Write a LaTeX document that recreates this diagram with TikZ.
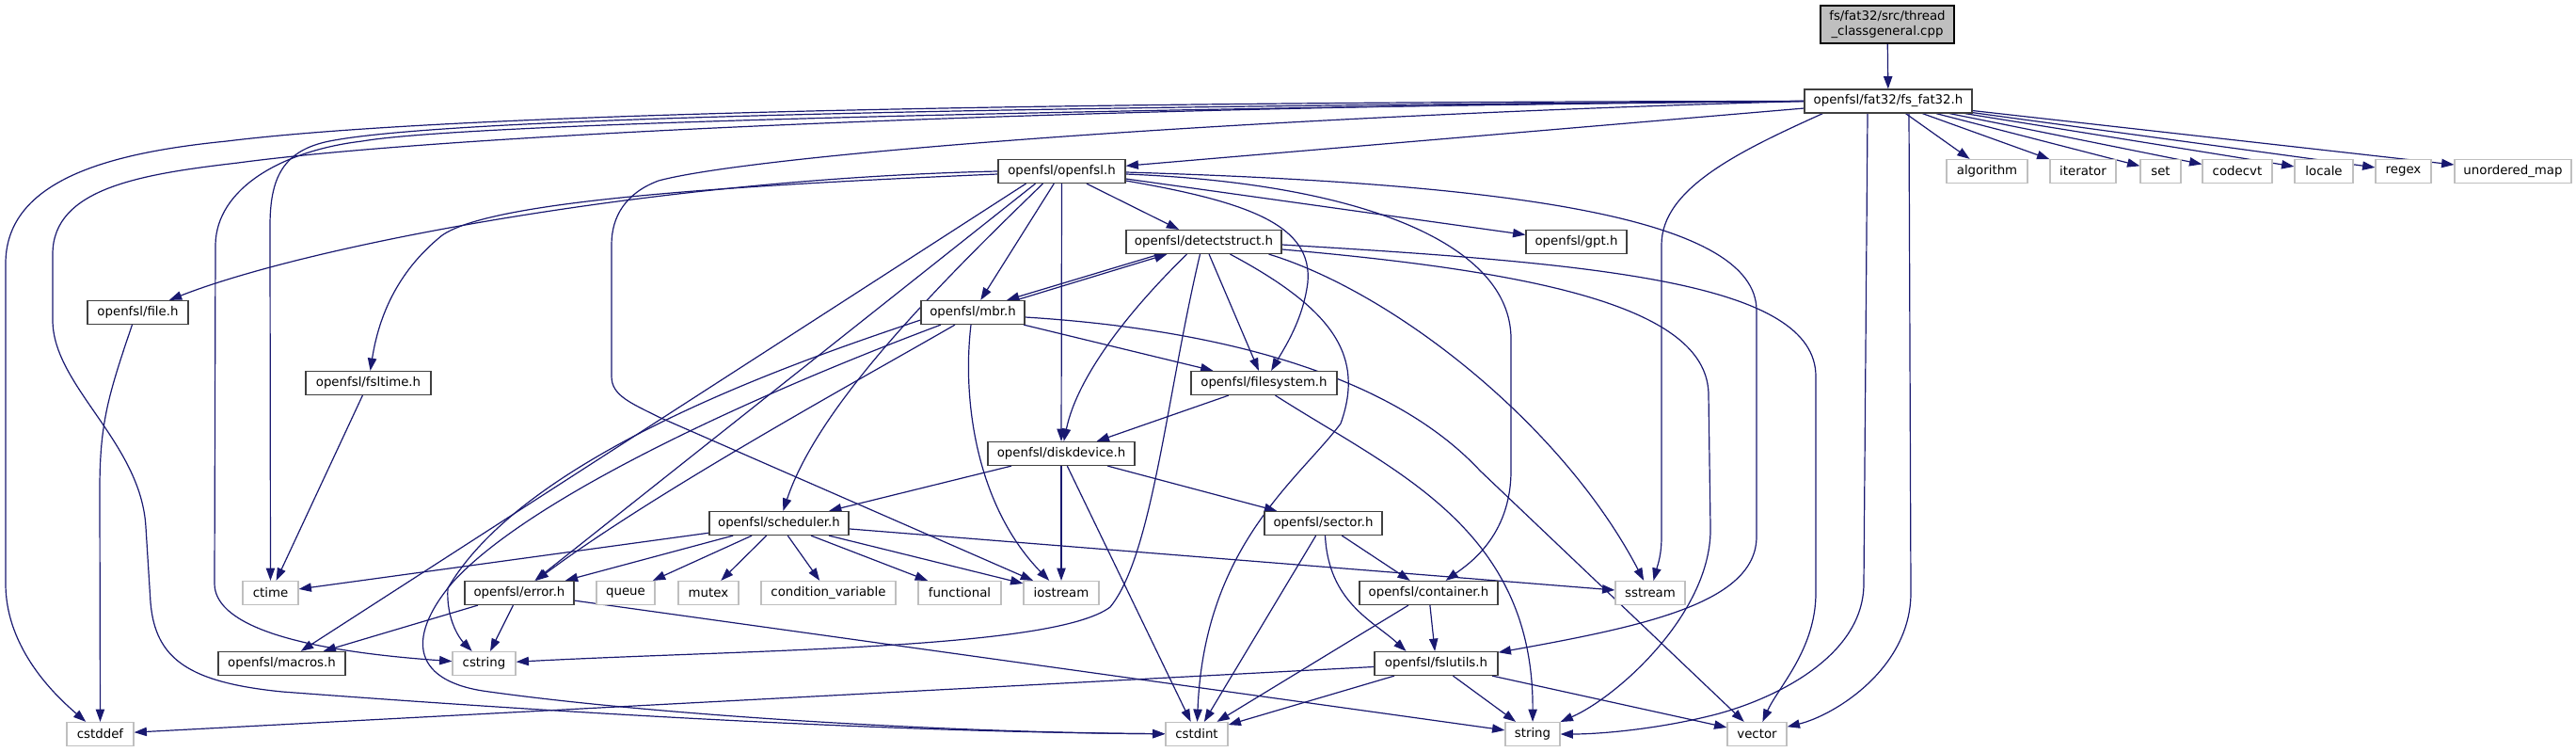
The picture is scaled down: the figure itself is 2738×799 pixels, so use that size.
\documentclass[tikz,border=0pt]{standalone}
\usepackage{fontspec}
\setmainfont{DejaVu Sans}
\usetikzlibrary{arrows.meta,calc}
\definecolor{edgec}{RGB}{25,25,112}
\definecolor{docb}{RGB}{64,64,64}
\definecolor{extb}{RGB}{191,191,191}
\definecolor{rootf}{RGB}{191,191,191}
\pgfdeclarelayer{bg}
\pgfsetlayers{bg,main}
\begin{document}
\begin{tikzpicture}[x=0.75pt,y=-0.75pt,
  box/.style={draw=docb,fill=white,line width=0.9pt,minimum height=18.75pt,inner sep=0pt,font=\fontsize{10}{12.5}\selectfont},
  ext/.style={box,draw=extb},
  rootbox/.style={box,fill=rootf,draw=black,minimum height=30pt,align=center},
  w/.style={minimum width=#1*0.75pt},
  edge/.style={draw=edgec,line width=0.9pt,-{Triangle[length=10pt,width=7pt]}}]
\useasboundingbox (0,0) rectangle (2738,799);
\node[rootbox,w=142] (R) at (2006,26) {fs/fat32/src/thread\\\_classgeneral.cpp};
\node[box,w=178] (F) at (2007,107.5) {openfsl/fat32/fs\_fat32.h};
\node[box,w=135] (O) at (1128.5,182) {openfsl/openfsl.h};
\node[ext,w=86] (alg) at (2112,182) {algorithm};
\node[ext,w=70] (itr) at (2214,182) {iterator};
\node[ext,w=43] (set) at (2296.5,182) {set};
\node[ext,w=74] (cvt) at (2378,182) {codecvt};
\node[ext,w=62] (loc) at (2470,182) {locale};
\node[ext,w=59] (rgx) at (2554.5,182) {regex};
\node[ext,w=124] (umap) at (2671,182) {unordered\_map};
\node[box,w=165] (D) at (1279.5,257) {openfsl/detectstruct.h};
\node[box,w=107] (G) at (1675.5,257) {openfsl/gpt.h};
\node[box,w=107] (Fi) at (146.5,332) {openfsl/file.h};
\node[box,w=110] (M) at (1034,332) {openfsl/mbr.h};
\node[box,w=133] (T) at (391.5,407) {openfsl/fsltime.h};
\node[box,w=155] (FS) at (1343.5,407) {openfsl/filesystem.h};
\node[box,w=156] (DD) at (1128,482) {openfsl/diskdevice.h};
\node[box,w=148] (S) at (828,556) {openfsl/scheduler.h};
\node[box,w=125] (Se) at (1406.5,556) {openfsl/sector.h};
\node[ext,w=59] (ctime) at (287.5,630) {ctime};
\node[box,w=116] (E) at (552,630) {openfsl/error.h};
\node[ext,w=62] (queue) at (665,630) {queue};
\node[ext,w=64] (mutex) at (753,630) {mutex};
\node[ext,w=143] (cv) at (880.5,630) {condition\_variable};
\node[ext,w=88] (func) at (1020,630) {functional};
\node[ext,w=80] (ios) at (1128,630) {iostream};
\node[box,w=147] (C) at (1518.5,630) {openfsl/container.h};
\node[ext,w=74] (sst) at (1754,630) {sstream};
\node[box,w=135] (Ma) at (299.5,705) {openfsl/macros.h};
\node[ext,w=67] (cstr) at (514.5,705) {cstring};
\node[box,w=131] (U) at (1526.5,705) {openfsl/fslutils.h};
\node[ext,w=71] (cdef) at (106.5,780) {cstddef};
\node[ext,w=66] (cint) at (1272,780) {cstdint};
\node[ext,w=58] (str) at (1629,780) {string};
\node[ext,w=63] (vec) at (1867.5,780) {vector};
\begin{pgfonlayer}{bg}
\draw[edge] (R) -- (F);
\draw[edge] (F) -- (O);
\foreach \t in {alg,itr,set,cvt,loc,rgx,umap} \draw[edge] (F) -- (\t);
\draw[edge] (F.west) .. controls (1300,112) and (500,120) .. (350,150) .. controls (300,160) and (287,190) .. (287,240) -- (ctime);
\draw[edge] (F.west) .. controls (1200,108) and (500,118) .. (241,150) .. controls (120,162) and (6,190) .. (6,280) -- (6,620) .. controls (6,690) and (60,740) .. (cdef);
\draw[edge] (F.west) .. controls (1200,112) and (500,140) .. (253,173) .. controls (150,185) and (56,200) .. (56,270) -- (56,340) .. controls (56,410) and (150,470) .. (155,560) -- (160,640) .. controls (165,700) and (200,725) .. (300,735) .. controls (700,765) and (1000,778) .. (cint);
\draw[edge] (F.west) .. controls (1200,115) and (500,130) .. (385,150) .. controls (300,160) and (230,200) .. (229,260) -- (228,620) .. controls (228,660) and (300,690) .. (cstr);
\draw[edge] (F.west) .. controls (1300,125) and (800,165) .. (700,192) .. controls (665,205) and (650,230) .. (650,260) -- (650,400) .. controls (650,420) and (670,428) .. (700,443) -- (ios);
\draw[edge] ($(F.south west)+(20,0)$) .. controls (1850,160) and (1766,200) .. (1766,260) -- (1766,570) .. controls (1766,590) and (1762,600) .. (sst);
\draw[edge] ($(F.south)+(-22,0)$) -- (1981,620) .. controls (1981,700) and (1880,745) .. (1820,760) .. controls (1760,775) and (1700,780) .. (str);
\draw[edge] ($(F.south)+(22,0)$) -- (2031,630) .. controls (2031,710) and (1950,760) .. (vec);
\draw[edge] (O) -- (D);
\draw[edge] ($(O.east)+(0,8)$) -- (G);
\draw[edge] (O) -- (M);
\draw[edge] (O) -- (DD);
\draw[edge] (O.west) .. controls (700,190) and (330,260) .. (Fi);
\draw[edge] ($(O.west)+(0,3)$) .. controls (750,198) and (520,215) .. (470,250) .. controls (420,290) and (402,340) .. (T);
\draw[edge] ($(O.south)+(-20,0)$) .. controls (1000,300) and (870,430) .. (S);
\draw[edge] ($(O.south)+(-38,0)$) -- (Ma);
\draw[edge] ($(O.south)+(-28,0)$) -- (E);
\draw[edge] ($(O.east)+(0,3)$) .. controls (1450,195) and (1606,260) .. (1606,360) -- (1606,500) .. controls (1606,570) and (1560,600) .. (C);
\draw[edge] ($(O.east)+(0,10)$) .. controls (1330,215) and (1395,240) .. (1390,300) .. controls (1385,340) and (1365,370) .. (FS);
\draw[edge] ($(O.east)+(0,1)$) .. controls (1600,195) and (1867,230) .. (1867,330) -- (1867,570) .. controls (1867,640) and (1750,665) .. (U);
\draw[edge] ($(D.south)+(-47,0)$) -- ($(M.north)+(36,0)$);
\draw[edge] ($(M.north)+(46,0)$) -- ($(D.south)+(-39,0)$);
\draw[edge] ($(D.south)+(-18,0)$) .. controls (1200,330) and (1145,400) .. (DD);
\draw[edge] ($(D.south)+(-4,0)$) .. controls (1240,420) and (1225,590) .. (1180,645) .. controls (1120,690) and (800,690) .. (cstr);
\draw[edge] (D) -- (FS);
\draw[edge] ($(D.south)+(28,0)$) .. controls (1420,330) and (1450,380) .. (1425,450) .. controls (1380,510) and (1280,580) .. (cint);
\draw[edge] ($(D.south east)+(-14,0)$) .. controls (1480,310) and (1660,450) .. (sst);
\draw[edge] ($(D.east)+(0,3)$) .. controls (1700,280) and (1930,300) .. (1930,400) -- (1930,630) .. controls (1930,690) and (1890,730) .. (vec);
\draw[edge] ($(D.east)+(0,8)$) .. controls (1650,290) and (1816,330) .. (1816,420) -- (1818,560) .. controls (1820,650) and (1720,740) .. (str);
\draw[edge] (M) -- (FS);
\draw[edge] ($(M.south)+(-2,0)$) .. controls (1022,430) and (1040,540) .. (ios);
\draw[edge] ($(M.west)+(0,8)$) .. controls (860,380) and (560,480) .. (476,625) .. controls (474,660) and (490,680) .. (cstr);
\draw[edge] ($(M.south)+(-34,0)$) .. controls (800,420) and (560,530) .. (480,620) .. controls (430,680) and (440,725) .. (520,735) .. controls (700,760) and (1000,778) .. (cint);
\draw[edge] ($(M.south)+(-19,0)$) .. controls (920,400) and (700,520) .. (E);
\draw[edge] ($(M.east)+(0,5)$) .. controls (1300,350) and (1480,400) .. (1573,500) -- (vec);
\draw[edge] (FS) -- (DD);
\draw[edge] ($(FS.south)+(12,0)$) .. controls (1480,500) and (1630,560) .. (str);
\draw[edge] (DD) -- (S);
\draw[edge] (DD) -- (Se);
\draw[edge] (DD) -- (ios);
\draw[edge] (DD) -- (cint);
\foreach \t in {ctime,E,queue,mutex,cv,func,ios,sst} \draw[edge] (S) -- (\t);
\draw[edge] (Se) -- (cint);
\draw[edge] (Se) -- (C);
\draw[edge] ($(Se.south)+(2,0)$) .. controls (1412,640) and (1460,660) .. ($(U.north)+(-32,0)$);
\draw[edge] (C) -- (cint);
\draw[edge] (C) -- (U);
\draw[edge] (U) -- (cdef);
\draw[edge] (U) -- (cint);
\draw[edge] (U) -- (str);
\draw[edge] (U) -- (vec);
\draw[edge] (E) -- (Ma);
\draw[edge] (E) -- (cstr);
\draw[edge] (E) -- (str);
\draw[edge] ($(Fi.south)+(-6,0)$) .. controls (115,420) and (106,450) .. (106,520) -- (cdef);
\draw[edge] (T) -- (ctime);
\end{pgfonlayer}
\end{tikzpicture}
\end{document}
